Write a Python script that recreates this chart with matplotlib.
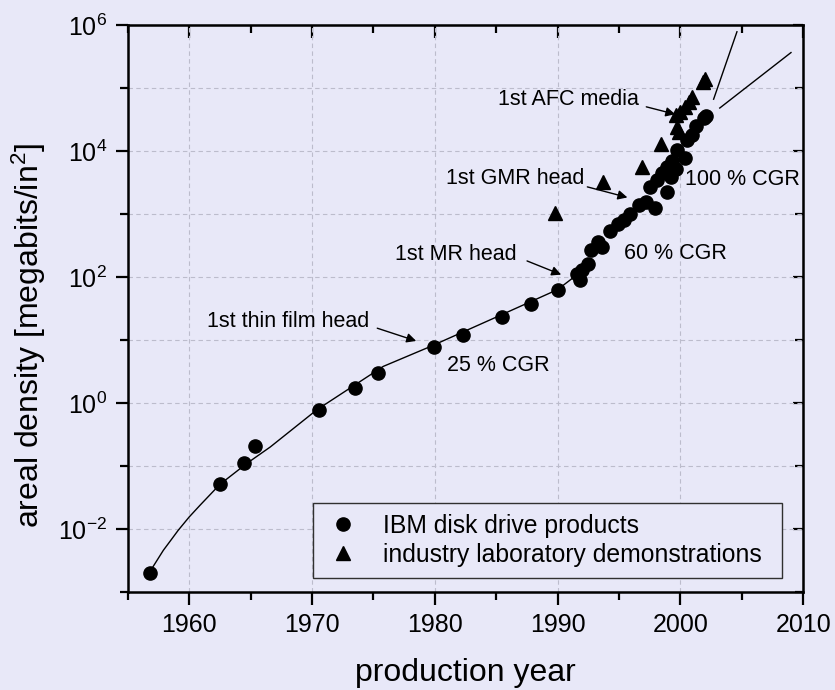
import numpy as np
import matplotlib.pyplot as plt
from matplotlib.ticker import FixedLocator, LogFormatterSciNotation, NullFormatter

plt.rcParams['font.family'] = ['Liberation Sans', 'DejaVu Sans']
plt.rcParams['mathtext.fontset'] = 'custom'
plt.rcParams['mathtext.rm'] = 'Liberation Sans'
plt.rcParams['mathtext.it'] = 'Liberation Sans:italic'

# IBM disk drive products (year, Mbit/in^2)
ibm_year = [1956.8, 1962.5, 1964.5, 1965.4, 1970.6, 1973.5, 1975.4, 1979.9, 1982.3,
            1985.5, 1987.8, 1990.0, 1991.6, 1991.8, 1992.0, 1992.5, 1992.7, 1993.3,
            1993.6, 1994.3, 1994.9, 1995.4, 1995.9, 1996.6, 1997.2, 1997.9, 1997.5,
            1998.1, 1998.5, 1998.9, 1999.2, 1998.9, 1999.6, 1999.3, 1999.7, 2000.4,
            2000.5, 2000.9, 2001.3, 2001.9, 2002.1]
ibm_val = [0.002, 0.051, 0.11, 0.21, 0.78, 1.7, 3.0, 7.6, 12,
           23, 37, 63, 110, 90, 130, 160, 270, 360,
           300, 540, 680, 790, 1000, 1380, 1550, 1230, 2700,
           3450, 4500, 5600, 3900, 2250, 5200, 7000, 10500, 7600,
           14800, 18000, 25000, 33000, 36000]

# industry laboratory demonstrations
lab_year = [1989.8, 1993.7, 1996.9, 1998.4, 1999.7, 1999.9, 1999.6, 2000.0,
            2000.4, 2000.7, 2000.9, 2001.8, 2002.0]
lab_val = [1050, 3200, 5600, 13000, 24000, 20000, 37000, 42000,
           50000, 60000, 72000, 125000, 140000]

# fit line through the early products
fit_year = [1956.8, 1957.9, 1958.5, 1959.1, 1960.0, 1960.9, 1962.5, 1964.7,
            1966.6, 1970.4, 1975.8, 1979.6, 1985.0, 1990.0, 1992.0]
fit_val = [0.0021, 0.0046, 0.0066, 0.0095, 0.0155, 0.024, 0.051, 0.11,
           0.20, 0.78, 3.8, 7.8, 23, 63, 125]

xticks = [1960, 1970, 1980, 1990, 2000, 2010]
xminor = [1955, 1965, 1975, 1985, 1995, 2005]
yticks = [1e-2, 1e0, 1e2, 1e4, 1e6]
yminor = [1e-3, 1e-1, 1e1, 1e3, 1e5]

bg = '#e8e8f8'
fig = plt.figure(figsize=(8.35, 6.9), dpi=100, facecolor=bg)
ax = fig.add_axes([0.153, 0.142, 0.809, 0.822], facecolor=bg)

ax.plot(fit_year, fit_val, '-', color='k', lw=1.0, zorder=2)
ax.plot(ibm_year, ibm_val, 'o', color='k', ms=9.5, ls='none', zorder=3,
        label='IBM disk drive products')
ax.plot(lab_year, lab_val, '^', color='k', ms=10, ls='none', zorder=3,
        label='industry laboratory demonstrations')

ax.set_yscale('log')
ax.set_xlim(1955, 2010)
ax.set_ylim(1e-3, 1e6)
ax.xaxis.set_major_locator(FixedLocator(xticks))
ax.xaxis.set_minor_locator(FixedLocator(xminor))
ax.yaxis.set_major_locator(FixedLocator(yticks))
ax.yaxis.set_major_formatter(LogFormatterSciNotation())
ax.yaxis.set_minor_locator(FixedLocator(yminor))
ax.yaxis.set_minor_formatter(NullFormatter())

ax.grid(True, which='both', axis='y', ls=(0, (4, 3)), color='#bcbccc', lw=0.8)
ax.grid(True, which='major', axis='x', ls=(0, (4, 3)), color='#bcbccc', lw=0.8)

ax.tick_params(which='major', direction='out', length=9, width=1.6, labelsize=18, pad=6)
ax.tick_params(which='minor', direction='out', length=6, width=1.6)
for s in ax.spines.values():
    s.set_linewidth(1.8)

top = ax.secondary_xaxis('top')
top.xaxis.set_major_locator(FixedLocator(xticks))
top.xaxis.set_minor_locator(FixedLocator(xminor))
top.tick_params(which='major', direction='in', length=9, width=1.6, labeltop=False)
top.tick_params(which='minor', direction='in', length=6, width=1.6)
right = ax.secondary_yaxis('right')
right.yaxis.set_major_locator(FixedLocator(yticks))
right.yaxis.set_minor_locator(FixedLocator(yminor))
right.tick_params(which='major', direction='in', length=7, width=1.6, labelright=False)
right.tick_params(which='minor', direction='in', length=6, width=1.6)
right.yaxis.set_minor_formatter(NullFormatter())

ax.set_xlabel('production year', fontsize=23, labelpad=15)
ax.set_ylabel('areal density [megabits/in$^2$]', fontsize=23)
ax.yaxis.set_label_coords(-0.118, 0.452)

fs = 15.5
ax.text(1974.7, 10**1.29, '1st thin film head', fontsize=fs, ha='right', va='center')
ax.annotate('', xy=(1978.7, 10**0.97), xytext=(1975.1, 10**1.2),
            arrowprops=dict(arrowstyle='-|>', color='k', lw=1.0, mutation_scale=14))
ax.text(1981.0, 10**0.60, '25 % CGR', fontsize=fs, ha='left', va='center')
ax.text(1986.7, 10**2.35, '1st MR head', fontsize=fs, ha='right', va='center')
ax.annotate('', xy=(1990.5, 10**2.02), xytext=(1987.3, 10**2.27),
            arrowprops=dict(arrowstyle='-|>', color='k', lw=1.0, mutation_scale=14))
ax.text(1995.4, 10**2.37, '60 % CGR', fontsize=fs, ha='left', va='center')
ax.text(1992.2, 10**3.56, '1st GMR head', fontsize=fs, ha='right', va='center')
ax.annotate('', xy=(1995.9, 10**3.25), xytext=(1992.2, 10**3.44),
            arrowprops=dict(arrowstyle='-|>', color='k', lw=1.0, mutation_scale=14))
ax.text(2000.4, 10**3.54, '100 % CGR', fontsize=fs, ha='left', va='center')
ax.text(1996.6, 10**4.81, '1st AFC media', fontsize=fs, ha='right', va='center')
ax.annotate('', xy=(1999.8, 10**4.57), xytext=(1997.0, 10**4.71),
            arrowprops=dict(arrowstyle='-|>', color='k', lw=1.0, mutation_scale=14))
# leader lines to labels outside the frame
ax.plot([2002.7, 2004.6], [10**4.82, 10**5.89], color='k', lw=1.0)
ax.plot([2003.2, 2009.0], [10**4.68, 10**5.56], color='k', lw=1.0)

leg = ax.legend(loc='lower left', bbox_to_anchor=(0.274, 0.025, 0.695, 0.127),
                mode='expand', fontsize=17.8,
                frameon=True, fancybox=False, framealpha=1, facecolor=bg,
                edgecolor='#303030', borderaxespad=0, handletextpad=0.9,
                handlelength=1.5, borderpad=0.45, labelspacing=0.2)
leg.get_frame().set_linewidth(1.0)

fig.savefig('out.png', dpi=100, facecolor=bg)
